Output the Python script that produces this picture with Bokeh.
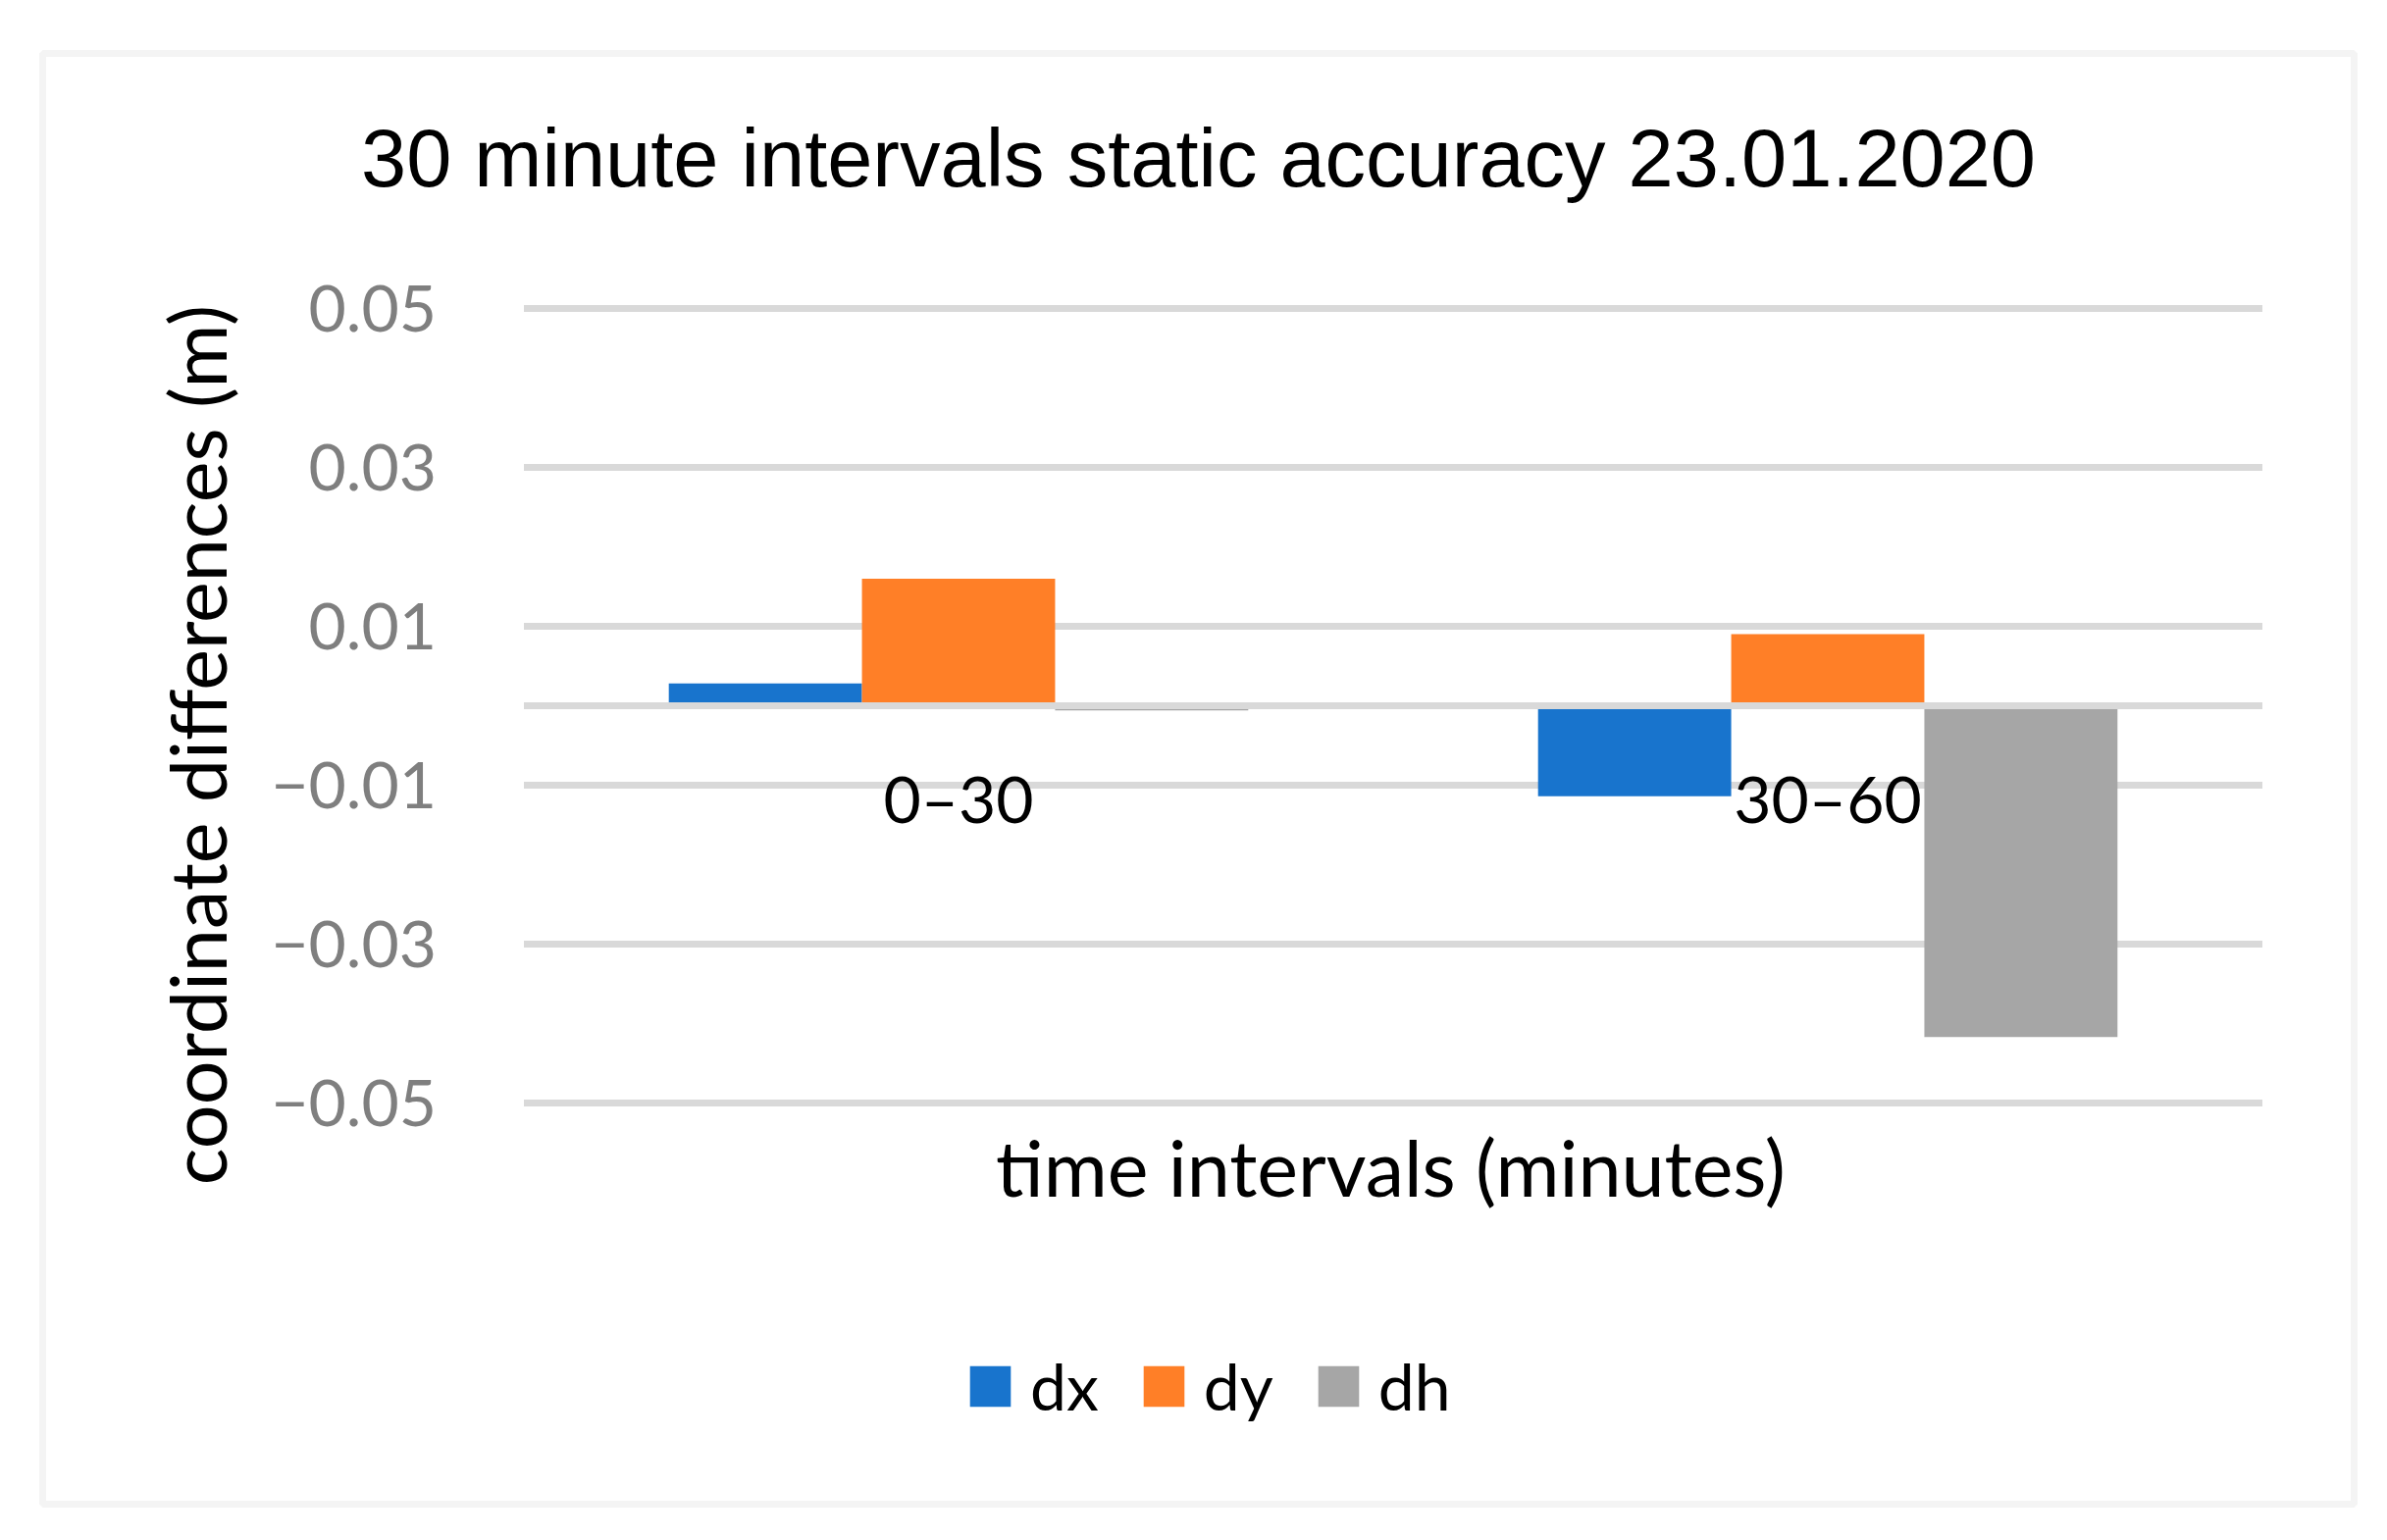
import math
from bokeh.plotting import figure
from bokeh.models import (Range1d, FixedTicker, CustomJSTickFormatter, LinearAxis,
                          Label, ColumnDataSource, Legend, LegendItem, BoxAnnotation)
from bokeh.transform import dodge
from bokeh.embed import file_html
from bokeh.resources import INLINE

# ---- data ----
categories = ["0–30", "30–60"]
series_names = ["dx", "dy", "dh"]
dx = [0.0028, -0.0114]
dy = [0.0160, 0.0090]
dh = [-0.0006, -0.0417]
y_ticks = [-0.05, -0.03, -0.01, 0.01, 0.03, 0.05]
title_text = "30 minute intervals static accuracy 23.01.2020"
x_title = "time intervals (minutes)"
y_title = "coordinate differences (m)"

# ---- style / geometry ----
colors = ["#1874CD", "#FF7F27", "#A6A6A6"]
GRID = "#D9D9D9"
W, H = 2415, 1552
FL, FR, FT, FB = 533.5, 2305.5, 314, 1124   # plot-area edges in canvas pixels
Y_LO, Y_HI = -0.05, 0.05
N = len(categories)

# ranges chosen so that the plot area [0, N] x [Y_LO, Y_HI] lands on the edges above
ppx = (FR - FL) / N
ppy = (FB - FT) / (Y_HI - Y_LO)
x_range = Range1d(-FL / ppx, N + (W - FR) / ppx)
y_range = Range1d(Y_LO - (H - FB) / ppy, Y_HI + FT / ppy)

p = figure(width=W, height=H, x_range=x_range, y_range=y_range,
           output_backend="svg", toolbar_location=None,
           x_axis_type=None, y_axis_type=None,
           min_border=0)
p.outline_line_color = None
p.background_fill_color = "white"
p.border_fill_color = "white"
p.grid.visible = False

centers = [i + 0.5 for i in range(N)]
source = ColumnDataSource(dict(xc=centers, cat=categories, dx=dx, dy=dy, dh=dh))

# horizontal gridlines across the plot area
p.segment(x0=0, x1=N, y0=y_ticks, y1=y_ticks, line_color=GRID, line_width=7)

bar_w = 0.2222
renderers = []
for i, (name, col) in enumerate(zip(series_names, colors)):
    r = p.vbar(x=dodge("xc", (i - 1) * bar_w), top=name, bottom=0,
               width=bar_w, source=source, fill_color=col, line_color=None)
    renderers.append(r)

# horizontal (zero) axis line drawn above the bars
p.segment(x0=[0], x1=[N], y0=[0], y1=[0], line_color=GRID, line_width=7)

# value axis
yax = LinearAxis(fixed_location=0, ticker=FixedTicker(ticks=y_ticks),
                 formatter=CustomJSTickFormatter(
                     code="return (tick < 0 ? '\u2212' : '') + Math.abs(tick).toFixed(2);"))
yax.major_label_text_font = "Lato"
yax.major_label_text_font_size = "66px"
yax.major_label_text_color = "#7F7F7F"
yax.major_label_standoff = 89
yax.major_tick_out = 0
yax.major_tick_in = 0
yax.minor_tick_out = 0
yax.minor_tick_in = 0
yax.axis_line_color = None
p.add_layout(yax, "left")

# category axis, crossing at zero
xax = LinearAxis(fixed_location=0, ticker=FixedTicker(ticks=centers),
                 formatter=CustomJSTickFormatter(args=dict(cats=categories),
                                                 code="return cats[Math.floor(tick)];"))
xax.major_label_text_font = "Lato"
xax.major_label_text_font_size = "66px"
xax.major_label_text_color = "black"
xax.major_label_standoff = 54
xax.major_tick_out = 0
xax.major_tick_in = 0
xax.minor_tick_out = 0
xax.minor_tick_in = 0
xax.axis_line_color = None
p.add_layout(xax, "below")

# titles
p.add_layout(Label(x=1221, y=H - 161, x_units="screen", y_units="screen",
                   text=title_text, text_align="center", text_baseline="alphabetic",
                   text_font="Liberation Sans", text_font_size="83px",
                   text_color="black"))
p.add_layout(Label(x=1417, y=H - 1189, x_units="screen", y_units="screen",
                   text=x_title, text_align="center", text_baseline="alphabetic",
                   text_font="Lato", text_font_size="79px", text_color="black"))
p.add_layout(Label(x=200, y=H - 759, x_units="screen", y_units="screen",
                   text=y_title, angle=math.pi / 2, text_align="center",
                   text_baseline="middle", text_font="Lato",
                   text_font_size="79px", text_color="black"))

# chart-area border
p.add_layout(BoxAnnotation(left=43, right=2399, top=H - 54, bottom=H - 1533,
                           left_units="screen", right_units="screen",
                           top_units="screen", bottom_units="screen",
                           fill_alpha=0, line_color=GRID, line_width=7))

legend = Legend(items=[LegendItem(label=n, renderers=[r]) for n, r in zip(series_names, renderers)],
                orientation="horizontal", location=(983, H - 1452),
                glyph_width=52, glyph_height=52, label_standoff=15, spacing=40,
                padding=0, margin=0, border_line_color=None, background_fill_alpha=0,
                label_text_font="Lato", label_text_font_size="66px",
                label_text_color="black")
p.add_layout(legend)

open("out.html", "w").write(file_html(p, INLINE))
